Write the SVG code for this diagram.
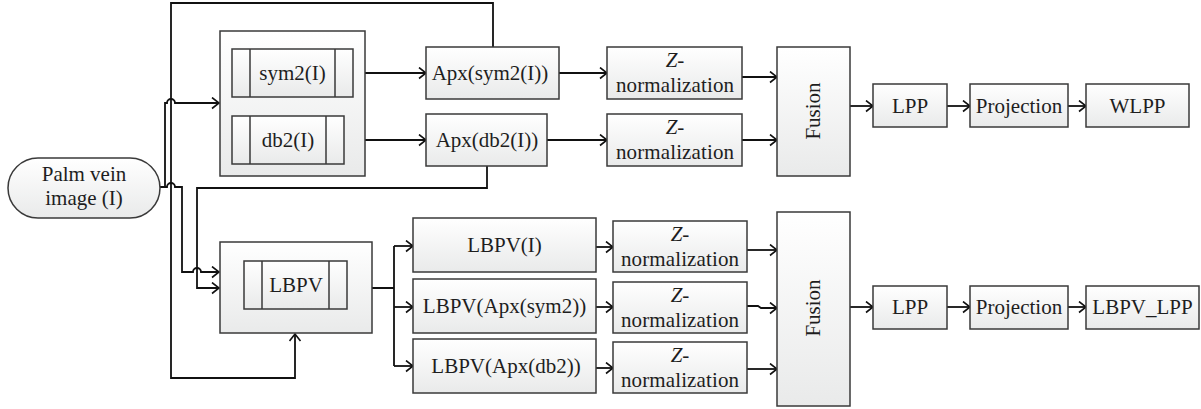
<svg xmlns="http://www.w3.org/2000/svg" width="1201" height="409" viewBox="0 0 1201 409">
<defs>
<linearGradient id="g" x1="0" y1="0" x2="0" y2="1">
<stop offset="0" stop-color="#ffffff"/>
<stop offset="1" stop-color="#e9eaea"/>
</linearGradient>
<marker id="a" markerUnits="userSpaceOnUse" markerWidth="10" markerHeight="14" refX="8" refY="6" orient="auto">
<path d="M1,0.5 L8,6 L1,11.5" fill="none" stroke="#111" stroke-width="1.6"/>
</marker>
</defs>
<style>
.b{fill:url(#g);stroke:#3a3a3a;stroke-width:1.5}
.d{fill:none;stroke:#3a3a3a;stroke-width:1.5}
.c{fill:none;stroke:#111;stroke-width:1.8}
.ar{marker-end:url(#a)}
text{font-family:'Liberation Serif','Times New Roman',serif;font-size:21px;fill:#1e1e1e;text-anchor:middle}
</style>
<rect width="1201" height="409" fill="#fff"/>

<g id="connectors">
<path class="c ar" d="M160,187 H165 V103 H167 A4,4 0 0 1 175,103 H219"/>
<path class="c ar" d="M165,187 H167 A4,4 0 0 1 175,187 H182 V272 H193 A4,4 0 0 1 201,272 H219"/>
<path class="c ar" d="M493,47 V3 H171 V378 H295 V334"/>
<path class="c ar" d="M487,166 V188 H197 V288 H219"/>
<path class="c ar" d="M353,73 H426"/>
<path class="c ar" d="M344,140 H426"/>
<path class="c ar" d="M559,73 H607"/>
<path class="c ar" d="M547,140 H607"/>
<path class="c ar" d="M742,77 H777"/>
<path class="c ar" d="M742,140 H777"/>
<path class="c ar" d="M850,106 H873"/>
<path class="c ar" d="M947,106 H970"/>
<path class="c ar" d="M1068,106 H1086"/>
<path class="c" d="M372,288 H394 M394,246 V366"/>
<path class="c ar" d="M394,246 H413"/>
<path class="c ar" d="M394,307 H413"/>
<path class="c ar" d="M394,366 H413"/>
<path class="c ar" d="M596,247 H613"/>
<path class="c ar" d="M596,307 H613"/>
<path class="c ar" d="M596,368 H613"/>
<path class="c ar" d="M747,250 H777"/>
<path class="c ar" d="M747,306 H758 L761,308 H777"/>
<path class="c ar" d="M747,369 H777"/>
<path class="c ar" d="M850,307 H873"/>
<path class="c ar" d="M947,307 H970"/>
<path class="c ar" d="M1068,307 H1086"/>
</g>

<g id="palm">
<rect class="b" x="8" y="158" width="152" height="60" rx="30" ry="30"/>
<text x="84" y="181">Palm vein</text>
<text x="84" y="205">image (I)</text>
</g>

<g id="wavelet-group">
<rect class="b" x="220" y="31" width="145" height="145"/>
</g>
<g id="sym2">
<rect class="b" x="232" y="49" width="121" height="48"/>
<path class="d" d="M250,49 V97 M335,49 V97"/>
<text x="292.5" y="80">sym2(I)</text>
</g>
<g id="db2">
<rect class="b" x="232" y="116" width="112" height="48"/>
<path class="d" d="M250,116 V164 M326,116 V164"/>
<text x="288" y="147">db2(I)</text>
</g>

<g id="apx-sym2">
<rect class="b" x="426" y="47" width="133" height="52"/>
<text x="490" y="80">Apx(sym2(I))</text>
</g>
<g id="apx-db2">
<rect class="b" x="426" y="114" width="121" height="52"/>
<text x="487" y="147">Apx(db2(I))</text>
</g>

<g id="z1">
<rect class="b" x="607" y="47" width="135" height="52"/>
<text x="675" y="67"><tspan font-style="italic">Z</tspan>-</text>
<text x="675" y="92" textLength="118">normalization</text>
</g>
<g id="z2">
<rect class="b" x="607" y="114" width="135" height="52"/>
<text x="675" y="134"><tspan font-style="italic">Z</tspan>-</text>
<text x="675" y="159" textLength="118">normalization</text>
</g>

<g id="fusion1">
<rect class="b" x="777" y="47" width="73" height="129"/>
<text transform="translate(820,111) rotate(-90)">Fusion</text>
</g>
<g id="lpp1">
<rect class="b" x="873" y="84" width="74" height="43"/>
<text x="910" y="113">LPP</text>
</g>
<g id="proj1">
<rect class="b" x="970" y="84" width="98" height="43"/>
<text x="1019" y="113">Projection</text>
</g>
<g id="wlpp">
<rect class="b" x="1086" y="84" width="103" height="43"/>
<text x="1137.5" y="113">WLPP</text>
</g>

<g id="lbpv-group">
<rect class="b" x="220" y="242" width="152" height="91"/>
</g>
<g id="lbpv">
<rect class="b" x="244" y="261" width="103" height="48"/>
<path class="d" d="M262,261 V309 M329,261 V309"/>
<text x="296" y="292">LBPV</text>
</g>

<g id="lbpv-i">
<rect class="b" x="413" y="218" width="183" height="54"/>
<text x="504.5" y="252">LBPV(I)</text>
</g>
<g id="lbpv-sym2">
<rect class="b" x="413" y="279" width="183" height="54"/>
<text x="504.5" y="313">LBPV(Apx(sym2))</text>
</g>
<g id="lbpv-db2">
<rect class="b" x="413" y="339" width="183" height="54"/>
<text x="506" y="373">LBPV(Apx(db2))</text>
</g>

<g id="z3">
<rect class="b" x="613" y="221" width="134" height="51"/>
<text x="680" y="241"><tspan font-style="italic">Z</tspan>-</text>
<text x="680" y="266" textLength="118">normalization</text>
</g>
<g id="z4">
<rect class="b" x="613" y="282" width="134" height="51"/>
<text x="680" y="302"><tspan font-style="italic">Z</tspan>-</text>
<text x="680" y="327" textLength="118">normalization</text>
</g>
<g id="z5">
<rect class="b" x="613" y="342" width="134" height="51"/>
<text x="680" y="362"><tspan font-style="italic">Z</tspan>-</text>
<text x="680" y="387" textLength="118">normalization</text>
</g>

<g id="fusion2">
<rect class="b" x="777" y="212" width="73" height="194"/>
<text transform="translate(820,308) rotate(-90)">Fusion</text>
</g>
<g id="lpp2">
<rect class="b" x="873" y="286" width="74" height="43"/>
<text x="910" y="314">LPP</text>
</g>
<g id="proj2">
<rect class="b" x="970" y="286" width="98" height="43"/>
<text x="1019" y="314">Projection</text>
</g>
<g id="lbpv-lpp">
<rect class="b" x="1086" y="286" width="113" height="43"/>
<text x="1142.5" y="314">LBPV_LPP</text>
</g>
</svg>
